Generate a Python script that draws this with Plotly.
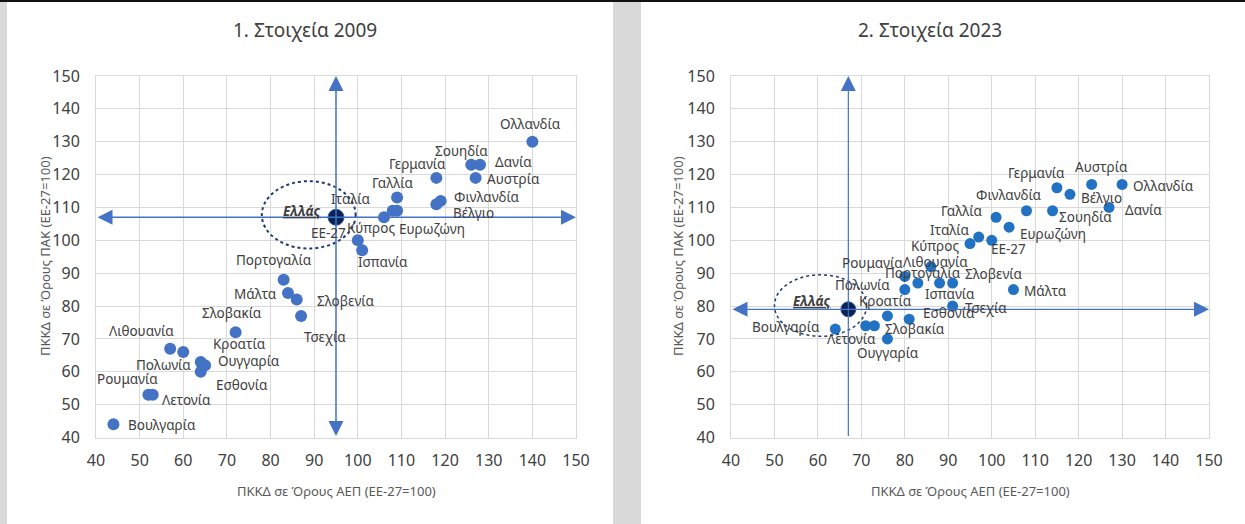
import plotly.graph_objects as go

# ---------------- DATA ----------------
countries_2009 = ["Ολλανδία", "Σουηδία", "Δανία", "Αυστρία", "Γερμανία", "Φινλανδία", "Βέλγιο",
                  "Γαλλία", "Ιταλία", "Ευρωζώνη", "Κύπρος", "ΕΕ-27", "Ισπανία", "Πορτογαλία",
                  "Μάλτα", "Σλοβενία", "Τσεχία", "Σλοβακία", "Λιθουανία", "Πολωνία", "Κροατία",
                  "Ουγγαρία", "Εσθονία", "Ρουμανία", "Λετονία", "Βουλγαρία"]
gdp_2009 = [140, 126, 128, 127, 118, 119, 118, 109, 108, 109, 106, 100, 101, 83,
            84, 86, 87, 72, 57, 60, 64, 65, 64, 52, 53, 44]
aic_2009 = [130, 123, 123, 119, 119, 112, 111, 113, 109, 109, 107, 100, 97, 88,
            84, 82, 77, 72, 67, 66, 63, 62, 60, 53, 53, 44]
greece_2009 = (95, 107)

countries_2023 = ["Ολλανδία", "Αυστρία", "Γερμανία", "Βέλγιο", "Δανία", "Σουηδία", "Φινλανδία",
                  "Γαλλία", "Ευρωζώνη", "Ιταλία", "ΕΕ-27", "Κύπρος", "Μάλτα", "Λιθουανία",
                  "Ρουμανία", "Πορτογαλία", "Ισπανία", "Σλοβενία", "Πολωνία", "Τσεχία",
                  "Κροατία", "Εσθονία", "Σλοβακία", "Λετονία", "Βουλγαρία", "Ουγγαρία"]
gdp_2023 = [130, 123, 115, 118, 127, 114, 108, 101, 104, 97, 100, 95, 105, 86,
            80, 83, 88, 91, 80, 91, 76, 81, 73, 71, 64, 76]
aic_2023 = [117, 117, 116, 114, 110, 109, 109, 107, 104, 101, 100, 99, 85, 92,
            89, 87, 87, 87, 85, 80, 77, 76, 74, 74, 73, 70]
greece_2023 = (67, 79)

greece_name = "Ελλάς"
titles = ["1. Στοιχεία 2009", "2. Στοιχεία 2023"]
x_title = "ΠΚΚΔ σε Όρους ΑΕΠ (ΕΕ-27=100)"
y_title = "ΠΚΚΔ σε Όρους ΠΑΚ (ΕΕ-27=100)"
axis_range = [40, 150]
tick_vals = list(range(40, 151, 10))

# ---------------- STYLE ----------------
W, H = 1245, 524
LABEL_FONT = "Noto Sans"
NARROW = "Liberation Sans Narrow, Noto Sans"
TXT = "#404040"
GRID = "#d9d9d9"

# label placement: name -> (xanchor, xshift px, dy px down)
lab_2009 = {
    "Ολλανδία": ("center", -2, -18), "Σουηδία": ("center", -10, -14), "Δανία": ("left", 13, -3),
    "Αυστρία": ("left", 9, 1), "Γερμανία": ("center", -19, -14), "Φινλανδία": ("left", 11, -4),
    "Βέλγιο": ("left", 15, 9), "Γαλλία": ("center", -5, -15), "Ιταλία": ("right", -20, -12),
    "Ευρωζώνη": ("left", 0, 18), "Κύπρος": ("right", 13, 11), "ΕΕ-27": ("right", -10, -7),
    "Ισπανία": ("center", 21, 12), "Πορτογαλία": ("center", -10, -20), "Μάλτα": ("right", -9, 1),
    "Σλοβενία": ("left", 18, 2), "Τσεχία": ("left", 1, 21), "Σλοβακία": ("center", -4, -19),
    "Λιθουανία": ("center", -29, -18), "Πολωνία": ("center", -20, 13), "Κροατία": ("left", 10, -18),
    "Ουγγαρία": ("left", 11, -4), "Εσθονία": ("left", 13, 13), "Ρουμανία": ("center", -21, -16),
    "Λετονία": ("left", 7, 5), "Βουλγαρία": ("left", 13, 1), "Ελλάς": ("right", -14, -6),
}
lab_2023 = {
    "Αυστρία": ("center", 10, -17), "Ολλανδία": ("left", 9, 2), "Γερμανία": ("center", -20, -15),
    "Βέλγιο": ("left", 9, 4), "Δανία": ("left", 14, 3), "Σουηδία": ("left", 4, 6),
    "Φινλανδία": ("center", -17, -16), "Γαλλία": ("right", -12, -6), "Ιταλία": ("right", -7, -7),
    "Ευρωζώνη": ("left", 9, 7), "ΕΕ-27": ("left", -3, 9), "Κύπρος": ("right", -9, 2),
    "Μάλτα": ("left", 9, 1), "Ρουμανία": ("right", 0, -13), "Πολωνία": ("right", -13, -5),
    "Πορτογαλία": ("center", 5, -10), "Λιθουανία": ("center", 5, -5), "Ισπανία": ("center", 10, 11),
    "Σλοβενία": ("left", 10, -9), "Τσεχία": ("left", 10, 2), "Εσθονία": ("left", 12, -6),
    "Κροατία": ("center", -2, -15), "Σλοβακία": ("left", 9, 3), "Λετονία": ("center", -14, 13),
    "Ουγγαρία": ("center", 1, 14), "Βουλγαρία": ("right", -13, -2), "Ελλάς": ("right", -16, -8),
}

dom1 = [96 / W, 576 / W]
dom2 = [731 / W, 1209 / W]
ydom = [1 - 437.5 / H, 1 - 76 / H]

fig = go.Figure()

panels = [
    dict(names=countries_2009, xs=gdp_2009, ys=aic_2009, gr=greece_2009, lab=lab_2009,
         xa="x", ya="y", color="#4472C4", msize=12, gsize=16, aw=1.5, asz=2,
         ell=(78, 99.5, 97.5, 118), ellw=2, vbottom=True),
    dict(names=countries_2023, xs=gdp_2023, ys=aic_2023, gr=greece_2023, lab=lab_2023,
         xa="x2", ya="y2", color="#2272C3", msize=11, gsize=15, aw=1.2, asz=2.5,
         ell=(50, 71.2, 70.8, 89.5), ellw=1.5, vbottom=False),
]

annotations = []
shapes = []

for p in panels:
    x0, x1, y0, y1 = p["ell"]
    shapes.append(dict(type="circle", xref=p["xa"], yref=p["ya"], x0=x0, x1=x1, y0=y0, y1=y1,
                       line=dict(color="#1F3A73", width=p["ellw"], dash="dot"), layer="above"))
    gx, gy = p["gr"]
    annotations.append(dict(xref=p["xa"], yref=p["ya"], axref=p["xa"], ayref=p["ya"],
                            x=axis_range[1], y=gy, ax=axis_range[0], ay=gy, text="",
                            showarrow=True, arrowside="end+start", arrowhead=2, startarrowhead=2,
                            arrowsize=p["asz"], startarrowsize=p["asz"], arrowwidth=p["aw"],
                            arrowcolor="#4472C4"))
    annotations.append(dict(xref=p["xa"], yref=p["ya"], axref=p["xa"], ayref=p["ya"],
                            x=gx, y=axis_range[1], ax=gx, ay=axis_range[0], text="",
                            showarrow=True,
                            arrowside="end+start" if p["vbottom"] else "end",
                            arrowhead=2, startarrowhead=2,
                            arrowsize=p["asz"], startarrowsize=p["asz"], arrowwidth=p["aw"],
                            arrowcolor="#4472C4"))
    fig.add_trace(go.Scatter(x=p["xs"], y=p["ys"], mode="markers", xaxis=p["xa"], yaxis=p["ya"],
                             marker=dict(size=p["msize"], color=p["color"]),
                             hovertext=p["names"], showlegend=False))
    fig.add_trace(go.Scatter(x=[gx], y=[gy], mode="markers", xaxis=p["xa"], yaxis=p["ya"],
                             marker=dict(size=p["gsize"], color="#0B2254",
                                         line=dict(color="#3a5a9a", width=1)),
                             hovertext=[greece_name], showlegend=False))
    for n, x, y in list(zip(p["names"], p["xs"], p["ys"])) + [(greece_name, gx, gy)]:
        anc, xs, dy = p["lab"][n]
        txt = "<b><i><u>%s</u></i></b>" % n if n == greece_name else n
        annotations.append(dict(xref=p["xa"], yref=p["ya"], x=x, y=y, text=txt, showarrow=False,
                                xanchor=anc, yanchor="middle", xshift=xs, yshift=-dy,
                                font=dict(family=LABEL_FONT, size=13.5, color=TXT)))

for t, cx in zip(titles, [305, 930]):
    annotations.append(dict(xref="paper", yref="paper", x=cx / W, y=1 - 30 / H, text=t,
                            showarrow=False, xanchor="center", yanchor="middle",
                            font=dict(family=NARROW, size=19, color=TXT)))
for cx in [336, 970]:
    annotations.append(dict(xref="paper", yref="paper", x=cx / W, y=1 - 491 / H, text=x_title,
                            showarrow=False, xanchor="center", yanchor="middle",
                            font=dict(family=NARROW, size=13, color="#595959")))
for cx in [45, 678]:
    annotations.append(dict(xref="paper", yref="paper", x=cx / W, y=1 - 256 / H, text=y_title,
                            showarrow=False, xanchor="center", yanchor="middle", textangle=-90,
                            font=dict(family=NARROW, size=13, color="#595959")))

shapes += [
    dict(type="rect", xref="paper", yref="paper", x0=0, x1=7 / W, y0=0, y1=1,
         fillcolor="#d9d9d9", line=dict(width=0), layer="below"),
    dict(type="rect", xref="paper", yref="paper", x0=613 / W, x1=641 / W, y0=0, y1=1,
         fillcolor="#d9d9d9", line=dict(width=0), layer="below"),
    dict(type="rect", xref="paper", yref="paper", x0=0, x1=1, y0=1 - 2 / H, y1=1,
         fillcolor="#111111", line=dict(width=0), layer="above"),
]

axis_common = dict(range=axis_range, tickvals=tick_vals, showgrid=True, gridcolor=GRID,
                   gridwidth=1, zeroline=False, showline=True, linecolor=GRID, mirror=True,
                   ticks="outside", tickcolor="rgba(0,0,0,0)", automargin=False,
                   tickfont=dict(family=NARROW, size=16, color=TXT), fixedrange=True)

fig.update_layout(
    width=W, height=H, margin=dict(l=0, r=0, t=0, b=0, pad=0, autoexpand=False),
    paper_bgcolor="white", plot_bgcolor="white",
    xaxis=dict(domain=dom1, anchor="y", ticklen=8, **axis_common),
    yaxis=dict(domain=ydom, anchor="x", ticklen=12, **axis_common),
    xaxis2=dict(domain=dom2, anchor="y2", ticklen=8, **axis_common),
    yaxis2=dict(domain=ydom, anchor="x2", ticklen=12, **axis_common),
    annotations=annotations, shapes=shapes, showlegend=False,
)

fig.write_html("out.html", config={"displayModeBar": False},
               post_script="document.body.style.margin='0';document.body.style.overflow='hidden';")
